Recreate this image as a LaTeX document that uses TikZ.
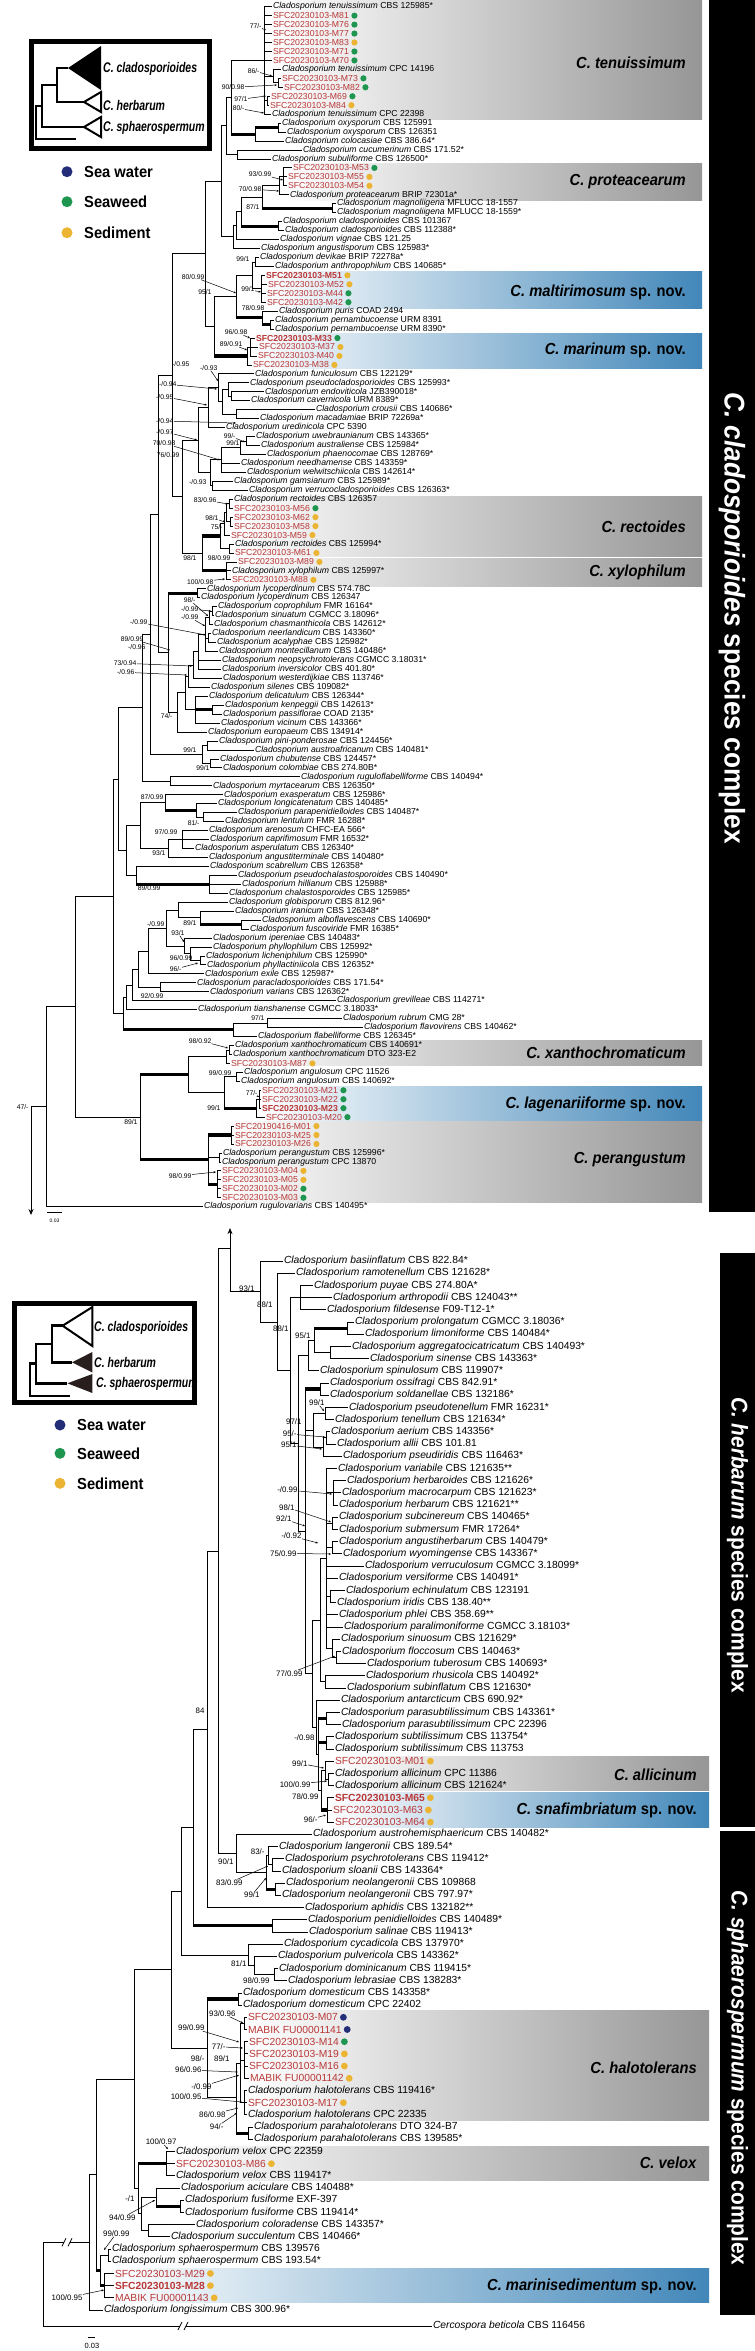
\documentclass[tikz,border=0pt]{standalone}
\usepackage{fontspec}
\setmainfont{Liberation Sans}
\newfontfamily\clfont[FakeStretch=0.92]{Liberation Sans}
\newfontfamily\legfont[FakeStretch=0.75]{Liberation Sans}
\usetikzlibrary{arrows.meta}
\definecolor{sfcred}{RGB}{185,55,55}
\definecolor{dg}{RGB}{30,150,80}
\definecolor{dy}{RGB}{235,180,50}
\definecolor{db}{RGB}{35,45,120}
\definecolor{boxg}{RGB}{150,150,150}
\definecolor{boxb}{RGB}{66,135,185}
\definecolor{dk}{RGB}{40,30,30}
\newcommand\Cl[1]{\textit{Cladosporium #1}}
\newcommand\rd[1]{\textcolor{sfcred}{#1}}
\newcommand\rdb[1]{\textcolor{sfcred}{\textbf{#1}}}
\def\dotr{3.1pt}
\newcommand\Lf[5]{\node[lab] (#1) at (#3,#4) {#5}; \draw[br] (#2,#4) -- (#1.west);}
\newcommand\Rf[6]{\Lf{#1}{#2}{#3}{#4}{\rd{SFC20230103-#5}}\fill[#6] ([xshift=4.5pt]#1.east) circle (\dotr);}
\newcommand\Rb[6]{\Lf{#1}{#2}{#3}{#4}{\rdb{SFC20230103-#5}}\fill[#6] ([xshift=4.5pt]#1.east) circle (\dotr);}
\newcommand\Rg[6]{\Lf{#1}{#2}{#3}{#4}{\rd{#5}}\fill[#6] ([xshift=4.5pt]#1.east) circle (\dotr);}
\newcommand\Nd[6]{\draw[br,#6] (#4,#5) -- (#1,#5); \draw[br] (#1,#2) -- (#1,#3);}
\newcount\supcnt
\newcommand\SupL[3]{\global\advance\supcnt by 1\relax\edef\snm{s\the\supcnt}\node[sup] (\snm) at (#1,#2) {#3};}
\newcommand\SupA[5]{\SupL{#1}{#2}{#3}\draw[sarr] (\snm) -- (#4,#5);}
\newcommand\brk[2]{\fill[white] (#1-3,#2-5) rectangle (#1+3,#2+5); \draw[line width=0.8pt] (#1-5,#2+4) -- (#1-1,#2-4) (#1+1,#2+4) -- (#1+5,#2-4);}
\tikzset{
 br/.style={line width=0.8pt},
 tk/.style={line width=3.2pt},
 lab/.style={anchor=west, inner sep=0.8pt, font=\fontsize{8.7}{9}\selectfont},
 sup/.style={anchor=east, inner sep=0.3pt, font=\fontsize{6.8}{7}\selectfont},
 sarr/.style={line width=0.5pt, -{Stealth[length=2.4pt,width=2pt]}},
 clab/.style={anchor=east, inner sep=0pt, font=\clfont\bfseries\fontsize{16}{16}\selectfont},
 legl/.style={anchor=west, inner sep=0pt, font=\legfont\bfseries\itshape\fontsize{14}{14}\selectfont},
 legt/.style={anchor=west, inner sep=0pt, font=\clfont\bfseries\fontsize{16}{16}\selectfont},
 bart/.style={rotate=-90, text=white, inner sep=0pt, font=\clfont\bfseries},
 lw/.style={line width=2.8pt},
}
\begin{document}
\begin{tikzpicture}[x=1pt,y=-1pt]
\useasboundingbox (0,0) rectangle (755,2351);
\fill[white] (0,0) rectangle (755,2351);
% ---------- clade boxes ----------
\shade[left color=white, right color=boxg] (268,0) rectangle (702,119.5);
\shade[left color=white, right color=boxg] (284,163) rectangle (702,200);
\shade[left color=white, right color=boxb] (262,271) rectangle (702,308.3);
\shade[left color=white, right color=boxb] (249,333.3) rectangle (702,368.3);
\shade[left color=white, right color=boxg] (227,496) rectangle (702,556.7);
\shade[left color=white, right color=boxg] (228,558.3) rectangle (702,586.7);
\shade[left color=white, right color=boxg] (227,1040.7) rectangle (702,1065.7);
\shade[left color=white, right color=boxb] (258,1086) rectangle (702,1121);
\shade[left color=white, right color=boxg] (217,1121.7) rectangle (702,1202.7);
\shade[left color=white, right color=boxg] (330,1756.7) rectangle (709,1790.7);
\shade[left color=white, right color=boxb] (330,1792.7) rectangle (709,1827.3);
\shade[left color=white, right color=boxg] (244,2010.7) rectangle (709,2120);
\shade[left color=white, right color=boxg] (172,2146.7) rectangle (709,2180.7);
\shade[left color=white, right color=boxb] (111,2268.3) rectangle (709,2302.7);
\node[clab] (cten) at (686,63) {\textit{C. tenuissimum}};
\node[clab] (cpro) at (686,182) {\textit{C. proteacearum}};
\node[clab] (cmal) at (686,292) {\textit{C. maltirimosum} sp. nov.};
\node[clab] (cmar) at (686,350) {\textit{C. marinum} sp. nov.};
\node[clab] (crec) at (686,527) {\textit{C. rectoides}};
\node[clab] (cxyl) at (686,572) {\textit{C. xylophilum}};
\node[clab] (cxan) at (686,1053) {\textit{C. xanthochromaticum}};
\node[clab] (clag) at (686,1104) {\textit{C. lagenariiforme} sp. nov.};
\node[clab] (cper) at (686,1160) {\textit{C. perangustum}};
\node[clab] (call) at (697,1775) {\textit{C. allicinum}};
\node[clab] (csna) at (697,1810) {\textit{C. snafimbriatum} sp. nov.};
\node[clab] (chal) at (697,2068) {\textit{C. halotolerans}};
\node[clab] (cvel) at (697,2163) {\textit{C. velox}};
\node[clab] (cmsd) at (697,2286) {\textit{C. marinisedimentum} sp. nov.};
% ---------- black bars ----------
\fill[black] (709,0) rectangle (755,1211.7);
\node[bart, font=\clfont\bfseries\fontsize{28.5}{28.5}\selectfont] (bar1) at (732,618) {\textit{C. cladosporioides} species complex};
\fill[black] (720,1253) rectangle (755,1826.7);
\node[bart, font=\clfont\bfseries\fontsize{22.7}{22.7}\selectfont] (bar2) at (737.5,1545) {\textit{C. herbarum} species complex};
\fill[black] (720,1831) rectangle (755,2315);
\node[bart, font=\clfont\bfseries\fontsize{22.7}{22.7}\selectfont] (bar3) at (737.5,2078) {\textit{C. sphaerospermum} species complex};
% ---------- top tree ----------
\begin{scope}[y=-8.955pt, yshift=2.255pt]
\Nd{264}{1}{13}{231}{7}{}
\Nd{273}{8}{9.5}{264}{8.75}{}
\Nd{278}{9}{10}{273}{9.5}{}
\Nd{267}{11}{12}{264}{11.5}{}
\Nd{278}{14}{15}{255}{14.5}{tk}
\Nd{255}{14.5}{16}{231}{15.25}{tk}
\Nd{231}{7}{15.25}{226}{11.1}{}
\Nd{237}{17}{18}{226}{17.5}{}
\Nd{226}{11.1}{17.5}{221}{14.3}{}
\Nd{283}{19}{21}{279}{20}{}
\Nd{279}{20}{22}{262}{21}{}
\Nd{332}{23}{24}{262}{23.5}{tk}
\Nd{262}{21}{23.5}{241}{22.25}{}
\Nd{278}{25}{26}{241}{25.5}{tk}
\Nd{241}{22.25}{25.5}{236}{23.9}{}
\Nd{236}{23.9}{27}{233}{25.45}{}
\Nd{233}{25.45}{28}{221}{26.7}{}
\Nd{221}{14.3}{26.7}{205}{20.5}{}
\Nd{255}{29}{30}{252}{29.5}{}
\Nd{261}{31}{34}{252}{32.5}{}
\Nd{252}{29.5}{32.5}{236}{31}{}
\Nd{270}{36}{37}{262}{36.5}{tk}
\Nd{262}{35}{36.5}{236}{35.75}{tk}
\Nd{236}{31}{35.75}{214}{33.4}{}
\Nd{250}{38}{40}{247}{39}{}
\Nd{247}{39}{41}{214}{40}{tk}
\Nd{214}{33.4}{40}{205}{36.7}{}
\Nd{205}{20.5}{36.7}{172}{28.6}{}
\Nd{231}{44}{45}{228}{44.5}{}
\Nd{228}{43}{44.5}{222}{43.75}{}
\Nd{236}{46}{47}{222}{46.5}{}
\Nd{222}{43.75}{46.5}{218}{45.1}{}
\Nd{218}{42}{45.1}{208}{43.55}{}
\Nd{208}{43.55}{48}{198}{45.8}{}
\Nd{246}{49}{50}{240}{49.5}{}
\Nd{240}{49.5}{51}{221}{50.25}{}
\Nd{221}{50.25}{53}{210}{51.6}{}
\Nd{212}{54}{55}{210}{54.5}{}
\Nd{210}{51.6}{54.5}{198}{53.05}{}
\Nd{198}{45.8}{53.05}{182}{49.4}{}
\Nd{229}{56}{57}{226}{56.5}{}
\Nd{230}{58}{59}{226}{58.5}{}
\Nd{226}{56.5}{58.5}{224}{57.5}{}
\Nd{224}{57.5}{60}{220}{58.75}{}
\Nd{229}{61}{62}{220}{61.5}{}
\Nd{220}{58.75}{61.5}{202}{60.1}{tk}
\Nd{226}{63}{65}{202}{64}{tk}
\Nd{202}{60.1}{64}{182}{62.05}{}
\Nd{182}{49.4}{62.05}{172}{55.7}{}
\Nd{172}{28.6}{55.7}{158}{42.15}{}
\Nd{197}{66}{67}{168}{66.5}{tk}
\Nd{212}{68}{69}{209}{68.5}{}
\Nd{209}{68.5}{70}{205}{69.25}{}
\Nd{208}{71}{72}{205}{71.5}{}
\Nd{205}{69.25}{73}{198}{71.1}{}
\Nd{198}{71.1}{75}{193}{73}{}
\Nd{193}{73}{76}{188}{74.5}{}
\Nd{188}{74.5}{77}{185}{75.75}{}
\Nd{212}{79}{80}{195}{79.5}{tk}
\Nd{195}{78}{81}{185}{79.5}{}
\Nd{185}{75.75}{79.5}{177}{77.6}{}
\Nd{177}{77.6}{82}{168}{79.8}{}
\Nd{168}{66.5}{79.8}{158}{73.15}{}
\Nd{158}{42.15}{73.15}{150}{57.65}{}
\Nd{207}{83}{84}{202}{83.5}{}
\Nd{210}{85}{86}{202}{85.5}{}
\Nd{202}{83.5}{85.5}{150}{84.5}{}
\Nd{150}{57.65}{84.5}{142}{71.1}{}
\Nd{170}{87}{88}{142}{87.5}{}
\Nd{142}{71.1}{87.5}{118}{79.3}{}
\Nd{203}{91}{92}{196}{91.5}{}
\Nd{196}{90}{91.5}{165}{90.75}{tk}
\Nd{165}{89}{90.75}{140}{89.9}{}
\Nd{182}{93}{95}{168}{94}{}
\Nd{168}{94}{96}{140}{95}{}
\Nd{140}{89.9}{95}{126}{92.45}{}
\Nd{209}{98}{100}{136}{99}{tk}
\Nd{136}{97}{99}{126}{98}{}
\Nd{126}{92.45}{98}{118}{95.2}{}
\Nd{118}{79.3}{95.2}{113}{87.25}{}
\Nd{241}{103}{104}{200}{103.5}{tk}
\Nd{200}{102}{103.5}{178}{102.75}{}
\Nd{178}{101}{102.75}{166}{101.9}{}
\Nd{200}{107}{108}{190}{107.5}{}
\Nd{190}{106}{107.5}{184}{106.75}{}
\Nd{184}{105}{106.75}{166}{105.9}{}
\Nd{166}{101.9}{105.9}{148}{103.9}{}
\Nd{148}{103.9}{109}{138}{106.45}{}
\Nd{160}{110}{111}{138}{110.5}{}
\Nd{138}{106.45}{110.5}{132}{108.5}{}
\Nd{132}{108.5}{112}{126}{110.25}{}
\Nd{126}{110.25}{113}{123}{111.6}{}
\Nd{267}{114}{115}{233}{114.5}{}
\Nd{233}{114.5}{116}{123}{115.25}{tk}
\Nd{123}{111.6}{115.25}{113}{113.4}{}
\Nd{113}{87.25}{113.4}{75}{100.3}{}
\Nd{229}{117}{118}{226}{117.5}{}
\Nd{226}{117.5}{119}{188}{118.25}{}
\Nd{236}{120}{121}{224}{120.5}{}
\Nd{259}{122}{124}{256}{123}{}
\Nd{256}{123}{125}{224}{124}{tk}
\Nd{224}{120.5}{124}{188}{122.25}{}
\Nd{188}{118.25}{122.25}{140}{120.25}{tk}
\Nd{231}{126}{128}{208}{127}{tk}
\Nd{219}{129}{130}{208}{129.5}{}
\Nd{217}{131}{134}{208}{132.5}{tk}
\Nd{208}{127}{132.5}{140}{129.75}{tk}
\Nd{140}{120.25}{129.75}{75}{125}{}
\Nd{75}{100.3}{125}{46}{112.65}{}
\Nd{46}{112.65}{135}{31}{123.8}{}
\draw[br,-{Stealth[length=6pt,width=5pt]}] (31,123.8) -- (31,135.93);
\Lf{t1}{264}{272}{1}{\Cl{tenuissimum} CBS 125985*}
\Rf{t2}{264}{272}{2}{M81}{dg}
\Rf{t3}{264}{272}{3}{M76}{dg}
\Rf{t4}{264}{272}{4}{M77}{dg}
\Rf{t5}{264}{272}{5}{M83}{dy}
\Rf{t6}{264}{272}{6}{M71}{dg}
\Rf{t7}{264}{272}{7}{M70}{dg}
\Lf{t8}{273}{281}{8}{\Cl{tenuissimum} CPC 14196}
\Rf{t9}{278}{281}{9}{M73}{dg}
\Rf{t10}{278}{283}{10}{M82}{dg}
\Rf{t11}{267}{270}{11}{M69}{dg}
\Rf{t12}{267}{269}{12}{M84}{dy}
\Lf{t13}{264}{271}{13}{\Cl{tenuissimum} CPC 22398}
\Lf{t14}{278}{281}{14}{\Cl{oxysporum} CBS 125991}
\Lf{t15}{278}{286}{15}{\Cl{oxysporum} CBS 126351}
\Lf{t16}{255}{284}{16}{\Cl{colocasiae} CBS 386.64*}
\Lf{t17}{237}{302}{17}{\Cl{cucumerinum} CBS 171.52*}
\Lf{t18}{237}{271}{18}{\Cl{subuliforme} CBS 126500*}
\Rf{t19}{283}{292}{19}{M53}{dg}
\Rf{t20}{283}{287}{20}{M55}{dy}
\Rf{t21}{283}{287}{21}{M54}{dy}
\Lf{t22}{279}{289}{22}{\Cl{proteacearum} BRIP 72301a*}
\Lf{t23}{332}{336}{23}{\Cl{magnoliigena} MFLUCC 18-1557}
\Lf{t24}{332}{336}{24}{\Cl{magnoliigena} MFLUCC 18-1559*}
\Lf{t25}{278}{282}{25}{\Cl{cladosporioides} CBS 101367}
\Lf{t26}{278}{284}{26}{\Cl{cladosporioides} CBS 112388*}
\Lf{t27}{236}{279}{27}{\Cl{vignae} CBS 121.25}
\Lf{t28}{233}{260}{28}{\Cl{angustisporum} CBS 125983*}
\Lf{t29}{255}{259}{29}{\Cl{devikae} BRIP 72278a*}
\Lf{t30}{255}{274}{30}{\Cl{anthropophilum} CBS 140685*}
\Rb{t31}{261}{265}{31}{M51}{dy}
\Rf{t32}{261}{267}{32}{M52}{dy}
\Rf{t33}{261}{266}{33}{M44}{dg}
\Rf{t34}{261}{266}{34}{M42}{dg}
\Lf{t35}{262}{278}{35}{\Cl{puris} COAD 2494}
\Lf{t36}{270}{274}{36}{\Cl{pernambucoense} URM 8391}
\Lf{t37}{270}{274}{37}{\Cl{pernambucoense} URM 8390*}
\Rb{t38}{250}{255}{38}{M33}{dg}
\Rf{t39}{250}{258}{39}{M37}{dy}
\Rf{t40}{250}{257}{40}{M40}{dy}
\Rf{t41}{247}{252}{41}{M38}{dy}
\Lf{t42}{218}{254}{42}{\Cl{funiculosum} CBS 122129*}
\Lf{t43}{228}{249}{43}{\Cl{pseudocladosporioides} CBS 125993*}
\Lf{t44}{231}{264}{44}{\Cl{endoviticola} JZB390018*}
\Lf{t45}{231}{250}{45}{\Cl{cavernicola} URM 8389*}
\Lf{t46}{236}{315}{46}{\Cl{crousii} CBS 140686*}
\Lf{t47}{236}{259}{47}{\Cl{macadamiae} BRIP 72269a*}
\Lf{t48}{208}{225}{48}{\Cl{uredinicola} CPC 5390}
\Lf{t49}{246}{255}{49}{\Cl{uwebraunianum} CBS 143365*}
\Lf{t50}{246}{260}{50}{\Cl{australiense} CBS 125984*}
\Lf{t51}{240}{266}{51}{\Cl{phaenocomae} CBS 128769*}
\Lf{t52}{221}{240}{52}{\Cl{needhamense} CBS 143359*}
\Lf{t53}{221}{246}{53}{\Cl{welwitschiicola} CBS 142614*}
\Lf{t54}{212}{233}{54}{\Cl{gamsianum} CBS 125989*}
\Lf{t55}{212}{248}{55}{\Cl{verrucocladosporioides} CBS 126363*}
\Lf{t56}{229}{233}{56}{\Cl{rectoides} CBS 126357}
\Rf{t57}{229}{233}{57}{M56}{dg}
\Rf{t58}{230}{233}{58}{M62}{dy}
\Rf{t59}{230}{233}{59}{M58}{dy}
\Rf{t60}{224}{230}{60}{M59}{dy}
\Lf{t61}{229}{234}{61}{\Cl{rectoides} CBS 125994*}
\Rf{t62}{229}{234}{62}{M61}{dy}
\Rf{t63}{226}{237}{63}{M89}{dy}
\Lf{t64}{226}{231}{64}{\Cl{xylophilum} CBS 125997*}
\Rf{t65}{226}{231}{65}{M88}{dy}
\Lf{t66}{197}{206}{66}{\Cl{lycoperdinum} CBS 574.78C}
\Lf{t67}{197}{200}{67}{\Cl{lycoperdinum} CBS 126347}
\Lf{t68}{212}{217}{68}{\Cl{coprophilum} FMR 16164*}
\Lf{t69}{212}{214}{69}{\Cl{sinuatum} CGMCC 3.18096*}
\Lf{t70}{209}{213}{70}{\Cl{chasmanthicola} CBS 142612*}
\Lf{t71}{208}{211}{71}{\Cl{neerlandicum} CBS 143360*}
\Lf{t72}{208}{216}{72}{\Cl{acalyphae} CBS 125982*}
\Lf{t73}{205}{218}{73}{\Cl{montecillanum} CBS 140486*}
\Lf{t74}{198}{221}{74}{\Cl{neopsychrotolerans} CGMCC 3.18031*}
\Lf{t75}{198}{221}{75}{\Cl{inversicolor} CBS 401.80*}
\Lf{t76}{193}{222}{76}{\Cl{westerdijkiae} CBS 113746*}
\Lf{t77}{188}{210}{77}{\Cl{silenes} CBS 109082*}
\Lf{t78}{195}{208}{78}{\Cl{delicatulum} CBS 126344*}
\Lf{t79}{212}{224}{79}{\Cl{kenpeggii} CBS 142613*}
\Lf{t80}{212}{222}{80}{\Cl{passiflorae} COAD 2135*}
\Lf{t81}{195}{220}{81}{\Cl{vicinum} CBS 143366*}
\Lf{t82}{177}{207}{82}{\Cl{europaeum} CBS 134914*}
\Lf{t83}{207}{218}{83}{\Cl{pini-ponderosae} CBS 124456*}
\Lf{t84}{207}{254}{84}{\Cl{austroafricanum} CBS 140481*}
\Lf{t85}{210}{219}{85}{\Cl{chubutense} CBS 124457*}
\Lf{t86}{210}{222}{86}{\Cl{colombiae} CBS 274.80B*}
\Lf{t87}{170}{300}{87}{\Cl{ruguloflabelliforme} CBS 140494*}
\Lf{t88}{170}{212}{88}{\Cl{myrtacearum} CBS 126350*}
\Lf{t89}{165}{223}{89}{\Cl{exasperatum} CBS 125986*}
\Lf{t90}{196}{217}{90}{\Cl{longicatenatum} CBS 140485*}
\Lf{t91}{203}{237}{91}{\Cl{parapenidielloides} CBS 140487*}
\Lf{t92}{203}{224}{92}{\Cl{lentulum} FMR 16288*}
\Lf{t93}{182}{208}{93}{\Cl{arenosum} CHFC-EA 566*}
\Lf{t94}{182}{209}{94}{\Cl{caprifimosum} FMR 16532*}
\Lf{t95}{182}{194}{95}{\Cl{asperulatum} CBS 126340*}
\Lf{t96}{168}{208}{96}{\Cl{angustiterminale} CBS 140480*}
\Lf{t97}{136}{209}{97}{\Cl{scabrellum} CBS 126358*}
\Lf{t98}{209}{237}{98}{\Cl{pseudochalastosporoides} CBS 140490*}
\Lf{t99}{209}{241}{99}{\Cl{hillianum} CBS 125988*}
\Lf{t100}{209}{228}{100}{\Cl{chalastosporoides} CBS 125985*}
\Lf{t101}{178}{228}{101}{\Cl{globisporum} CBS 812.96*}
\Lf{t102}{200}{234}{102}{\Cl{iranicum} CBS 126348*}
\Lf{t103}{241}{261}{103}{\Cl{alboflavescens} CBS 140690*}
\Lf{t104}{241}{249}{104}{\Cl{fuscoviride} FMR 16385*}
\Lf{t105}{184}{212}{105}{\Cl{ipereniae} CBS 140483*}
\Lf{t106}{190}{212}{106}{\Cl{phyllophilum} CBS 125992*}
\Lf{t107}{200}{205}{107}{\Cl{licheniphilum} CBS 125990*}
\Lf{t108}{200}{206}{108}{\Cl{phyllactiniicola} CBS 126352*}
\Lf{t109}{148}{204}{109}{\Cl{exile} CBS 125987*}
\Lf{t110}{160}{196}{110}{\Cl{paracladosporioides} CBS 171.54*}
\Lf{t111}{160}{209}{111}{\Cl{varians} CBS 126362*}
\Lf{t112}{132}{336}{112}{\Cl{grevilleae} CBS 114271*}
\Lf{t113}{126}{197}{113}{\Cl{tianshanense} CGMCC 3.18033*}
\Lf{t114}{267}{342}{114}{\Cl{rubrum} CMG 28*}
\Lf{t115}{267}{363}{115}{\Cl{flavovirens} CBS 140462*}
\Lf{t116}{233}{257}{116}{\Cl{flabelliforme} CBS 126345*}
\Lf{t117}{229}{234}{117}{\Cl{xanthochromaticum} CBS 140691*}
\Lf{t118}{229}{232}{118}{\Cl{xanthochromaticum} DTO 323-E2}
\Rf{t119}{226}{230}{119}{M87}{dy}
\Lf{t120}{236}{243}{120}{\Cl{angulosum} CPC 11526}
\Lf{t121}{236}{240}{121}{\Cl{angulosum} CBS 140692*}
\Rf{t122}{259}{261}{122}{M21}{dg}
\Rf{t123}{259}{261}{123}{M22}{dg}
\Rb{t124}{259}{261}{124}{M23}{dg}
\Rf{t125}{256}{265}{125}{M20}{dg}
\Rg{t126}{231}{234}{126}{SFC20190416-M01}{dy}
\Rf{t127}{231}{234}{127}{M25}{dy}
\Rf{t128}{231}{234}{128}{M26}{dy}
\Lf{t129}{219}{222}{129}{\Cl{perangustum} CBS 125996*}
\Lf{t130}{219}{221}{130}{\Cl{perangustum} CPC 13870}
\Rf{t131}{217}{221}{131}{M04}{dy}
\Rf{t132}{217}{221}{132}{M05}{dy}
\Rf{t133}{217}{221}{133}{M02}{dg}
\Rf{t134}{217}{221}{134}{M03}{dg}
\Lf{t135}{46}{203}{135}{\Cl{rugulovarians} CBS 140495*}
\end{scope}
% ---------- bottom tree ----------
\begin{scope}[y=-12.198pt, yshift=-1248.8pt, lab/.style={anchor=west, inner sep=0.8pt, font=\fontsize{10.3}{11}\selectfont}]
\def\dotr{3.4pt}
\Nd{300}{3}{5}{290}{4}{}
\Nd{347}{6}{7}{314}{6.5}{tk}
\Nd{330}{8}{9}{314}{8.5}{}
\Nd{314}{6.5}{8.5}{308}{7.5}{}
\Nd{308}{7.5}{10}{298}{8.75}{}
\Nd{320}{11}{12}{305}{11.5}{tk}
\Nd{325}{13}{14}{313}{13.5}{}
\Nd{326}{15}{16}{323}{15.5}{}
\Nd{323}{15.5}{17}{313}{16.25}{}
\Nd{313}{13.5}{16.25}{305}{14.9}{}
\Nd{333}{19}{21}{326}{20}{}
\Nd{332}{22}{23}{326}{22.5}{}
\Nd{332}{24}{25}{326}{24.5}{}
\Nd{330}{28}{29}{326}{28.5}{}
\Nd{336}{33}{34}{332}{33.5}{}
\Nd{332}{32}{33.5}{326}{32.75}{}
\Nd{326}{18}{32.75}{320}{25.4}{}
\Nd{325}{35}{36}{320}{35.5}{}
\Nd{320}{25.4}{35.5}{312}{30.45}{}
\Nd{326}{38}{39}{318}{38.5}{tk}
\Nd{326}{40}{41}{318}{40.5}{tk}
\Nd{328}{43}{44}{325}{43.5}{}
\Nd{325}{42}{43.5}{321}{42.75}{}
\Nd{327}{45}{47}{321}{46}{tk}
\Nd{321}{42.75}{46}{318}{44.4}{}
\Nd{318}{38.5}{44.4}{316}{41.45}{}
\Nd{316}{37}{41.45}{312}{39.2}{}
\Nd{312}{30.45}{39.2}{305}{34.8}{}
\Nd{305}{11.5}{34.8}{298}{23.15}{}
\Nd{298}{8.75}{23.15}{290}{15.95}{}
\Nd{290}{4}{15.95}{277}{9.98}{}
\Nd{277}{2}{9.98}{260}{6}{}
\Nd{260}{1}{6}{230}{3.5}{}
\draw[br,-{Stealth[length=6pt,width=5pt]}] (230,3.5) -- (230,-1.7);
\Nd{272}{50}{51}{268}{50.5}{}
\Nd{268}{49}{50.5}{266}{49.75}{}
\Nd{275}{52}{53}{266}{52.5}{tk}
\Nd{266}{49.75}{52.5}{236}{51.1}{}
\Nd{236}{48}{51.1}{218}{49.55}{}
\draw[br] (218,0) -- (230,0);
\Nd{218}{0}{49.55}{207}{24.8}{}
\Nd{207}{24.8}{54}{193}{39.4}{}
\Nd{272}{55}{56}{193}{55.5}{tk}
\Nd{193}{39.4}{55.5}{181}{47.45}{}
\Nd{274}{59}{60}{254}{59.5}{}
\Nd{254}{58}{59.5}{248}{58.75}{}
\Nd{248}{57}{58.75}{181}{57.9}{}
\Nd{181}{47.45}{57.9}{171}{52.7}{}
\Nd{238}{61}{62}{207}{61.5}{tk}
\Nd{244}{63}{64}{240}{63.5}{}
\Nd{244}{65}{68}{240}{66.5}{}
\Nd{244}{69}{71}{240}{70}{}
\Nd{240}{63.5}{70}{236}{66.75}{}
\Nd{248}{72}{73}{236}{72.5}{tk}
\Nd{236}{66.75}{72.5}{207}{69.6}{}
\Nd{207}{61.5}{69.6}{171}{65.55}{}
\Nd{171}{52.7}{65.55}{134}{59.1}{}
\Nd{166}{74}{76}{138}{75}{tk}
\Nd{180}{78}{79}{156}{78.5}{tk}
\Nd{156}{77}{78.5}{141}{77.75}{}
\Nd{148}{80}{81}{141}{80.5}{}
\Nd{141}{77.75}{80.5}{138}{79.1}{}
\Nd{138}{75}{79.1}{134}{77.05}{}
\Nd{134}{59.1}{77.05}{96}{68.1}{}
\Nd{108}{82}{83}{100}{82.5}{}
\Nd{104}{84}{86}{100}{85}{tk}
\Nd{100}{82.5}{85}{96}{83.75}{tk}
\Nd{96}{68.1}{83.75}{89}{75.9}{}
\Nd{89}{75.9}{87}{43}{81.45}{}
\draw[br] (43,81.45) -- (43,88.3);
\Lf{b1}{260}{283}{1}{\Cl{basiinflatum} CBS 822.84*}
\Lf{b2}{277}{295}{2}{\Cl{ramotenellum} CBS 121628*}
\Lf{b3}{300}{313}{3}{\Cl{puyae} CBS 274.80A*}
\Lf{b4}{300}{332}{4}{\Cl{arthropodii} CBS 124043**}
\Lf{b5}{300}{326}{5}{\Cl{fildesense} F09-T12-1*}
\Lf{b6}{347}{354}{6}{\Cl{prolongatum} CGMCC 3.18036*}
\Lf{b7}{347}{364}{7}{\Cl{limoniforme} CBS 140484*}
\Lf{b8}{330}{351}{8}{\Cl{aggregatocicatricatum} CBS 140493*}
\Lf{b9}{330}{369}{9}{\Cl{sinense} CBS 143363*}
\Lf{b10}{308}{319}{10}{\Cl{spinulosum} CBS 119907*}
\Lf{b11}{320}{329}{11}{\Cl{ossifragi} CBS 842.91*}
\Lf{b12}{320}{329}{12}{\Cl{soldanellae} CBS 132186*}
\Lf{b13}{325}{348}{13}{\Cl{pseudotenellum} FMR 16231*}
\Lf{b14}{325}{334}{14}{\Cl{tenellum} CBS 121634*}
\Lf{b15}{326}{330}{15}{\Cl{aerium} CBS 143356*}
\Lf{b16}{326}{336}{16}{\Cl{allii} CBS 101.81}
\Lf{b17}{323}{342}{17}{\Cl{pseudiridis} CBS 116463*}
\Lf{b18}{326}{337}{18}{\Cl{variabile} CBS 121635**}
\Lf{b19}{333}{346}{19}{\Cl{herbaroides} CBS 121626*}
\Lf{b20}{333}{341}{20}{\Cl{macrocarpum} CBS 121623*}
\Lf{b21}{333}{338}{21}{\Cl{herbarum} CBS 121621**}
\Lf{b22}{332}{338}{22}{\Cl{subcinereum} CBS 140465*}
\Lf{b23}{332}{338}{23}{\Cl{submersum} FMR 17264*}
\Lf{b24}{332}{338}{24}{\Cl{angustiherbarum} CBS 140479*}
\Lf{b25}{332}{342}{25}{\Cl{wyomingense} CBS 143367*}
\Lf{b26}{326}{364}{26}{\Cl{verruculosum} CGMCC 3.18099*}
\Lf{b27}{326}{338}{27}{\Cl{versiforme} CBS 140491*}
\Lf{b28}{330}{345}{28}{\Cl{echinulatum} CBS 123191}
\Lf{b29}{330}{336}{29}{\Cl{iridis} CBS 138.40**}
\Lf{b30}{326}{338}{30}{\Cl{phlei} CBS 358.69**}
\Lf{b31}{326}{343}{31}{\Cl{paralimoniforme} CGMCC 3.18103*}
\Lf{b32}{332}{340}{32}{\Cl{sinuosum} CBS 121629*}
\Lf{b33}{336}{341}{33}{\Cl{floccosum} CBS 140463*}
\Lf{b34}{336}{366}{34}{\Cl{tuberosum} CBS 140693*}
\Lf{b35}{325}{365}{35}{\Cl{rhusicola} CBS 140492*}
\Lf{b36}{325}{346}{36}{\Cl{subinflatum} CBS 121630*}
\Lf{b37}{316}{340}{37}{\Cl{antarcticum} CBS 690.92*}
\Lf{b38}{326}{340}{38}{\Cl{parasubtilissimum} CBS 143361*}
\Lf{b39}{326}{341}{39}{\Cl{parasubtilissimum} CPC 22396}
\Lf{b40}{326}{334}{40}{\Cl{subtilissimum} CBS 113754*}
\Lf{b41}{326}{334}{41}{\Cl{subtilissimum} CBS 113753}
\Rf{b42}{325}{334}{42}{M01}{dy}
\Lf{b43}{328}{334}{43}{\Cl{allicinum} CPC 11386}
\Lf{b44}{328}{334}{44}{\Cl{allicinum} CBS 121624*}
\Rb{b45}{327}{334}{45}{M65}{dy}
\Rf{b46}{327}{332}{46}{M63}{dy}
\Rf{b47}{327}{334}{47}{M64}{dy}
\Lf{b48}{236}{312}{48}{\Cl{austrohemisphaericum} CBS 140482*}
\Lf{b49}{268}{278}{49}{\Cl{langeronii} CBS 189.54*}
\Lf{b50}{272}{284}{50}{\Cl{psychrotolerans} CBS 119412*}
\Lf{b51}{272}{281}{51}{\Cl{sloanii} CBS 143364*}
\Lf{b52}{275}{285}{52}{\Cl{neolangeronii} CBS 109868}
\Lf{b53}{275}{281}{53}{\Cl{neolangeronii} CBS 797.97*}
\Lf{b54}{207}{304}{54}{\Cl{aphidis} CBS 132182**}
\Lf{b55}{272}{307}{55}{\Cl{penidielloides} CBS 140489*}
\Lf{b56}{272}{308}{56}{\Cl{salinae} CBS 119413*}
\Lf{b57}{248}{283}{57}{\Cl{cycadicola} CBS 137970*}
\Lf{b58}{254}{277}{58}{\Cl{pulvericola} CBS 143362*}
\Lf{b59}{274}{278}{59}{\Cl{dominicanum} CBS 119415*}
\Lf{b60}{274}{287}{60}{\Cl{lebrasiae} CBS 138283*}
\Lf{b61}{238}{242}{61}{\Cl{domesticum} CBS 143358*}
\Lf{b62}{238}{242}{62}{\Cl{domesticum} CPC 22402}
\Rf{b63}{244}{247}{63}{M07}{db}
\Rg{b64}{244}{247}{64}{MABIK FU00001141}{db}
\Rf{b65}{244}{248}{65}{M14}{dg}
\Rf{b66}{244}{248}{66}{M19}{dy}
\Rf{b67}{244}{248}{67}{M16}{dy}
\Rg{b68}{244}{249}{68}{MABIK FU00001142}{dy}
\Lf{b69}{244}{247}{69}{\Cl{halotolerans} CBS 119416*}
\Rf{b70}{244}{247}{70}{M17}{dy}
\Lf{b71}{244}{247}{71}{\Cl{halotolerans} CPC 22335}
\Lf{b72}{248}{253}{72}{\Cl{parahalotolerans} DTO 324-B7}
\Lf{b73}{248}{253}{73}{\Cl{parahalotolerans} CBS 139585*}
\Lf{b74}{166}{175}{74}{\Cl{velox} CPC 22359}
\Rf{b75}{166}{175}{75}{M86}{dy}
\Lf{b76}{166}{175}{76}{\Cl{velox} CBS 119417*}
\Lf{b77}{156}{180}{77}{\Cl{aciculare} CBS 140488*}
\Lf{b78}{180}{184}{78}{\Cl{fusiforme} EXF-397}
\Lf{b79}{180}{184}{79}{\Cl{fusiforme} CBS 119414*}
\Lf{b80}{148}{195}{80}{\Cl{coloradense} CBS 143357*}
\Lf{b81}{148}{170}{81}{\Cl{succulentum} CBS 140466*}
\Lf{b82}{108}{111}{82}{\Cl{sphaerospermum} CBS 139576}
\Lf{b83}{108}{111}{83}{\Cl{sphaerospermum} CBS 193.54*}
\Rf{b84}{104}{114}{84}{M29}{dy}
\Rb{b85}{104}{114}{85}{M28}{dy}
\Rg{b86}{104}{114}{86}{MABIK FU00001143}{dy}
\Lf{b87}{89}{103}{87}{\Cl{longissimum} CBS 300.96*}
\Lf{b88}{43}{432}{88.3}{\textit{Cercospora beticola} CBS 116456}
\end{scope}
\brk{67}{2242.3}
\brk{183}{2325.9}
% ---------- support values, top ----------
\SupA{262}{26}{77/-}{266}{30}
\SupA{260}{70.7}{86/-}{272}{76}
\SupA{245}{87.3}{90/0.98}{277}{85}
\SupA{248}{99.3}{97/1}{266}{96}
\SupA{245}{108.3}{80/-}{264}{113}
\SupA{272}{174}{93/0.99}{283}{180}
\SupA{262}{189}{70/0.98}{279}{191}
\SupL{260}{206.7}{87/1}
\SupL{250}{259}{99/1}
\SupA{205}{276.7}{80/0.99}{236}{293}
\SupA{255}{289.3}{99/1}{261}{292}
\SupL{212}{291.7}{95/1}
\SupL{265}{308.3}{78/0.98}
\SupA{248}{332.3}{96/0.98}{250}{338}
\SupA{243}{344}{89/0.91}{247}{350}
\SupL{190}{364}{-/0.95}
\SupA{218}{367.7}{-/0.93}{218}{381}
\SupA{177}{384.3}{-/0.94}{217}{389}
\SupA{174}{396.7}{-/0.95}{207}{405}
\SupA{174}{421}{-/0.94}{236}{423}
\SupA{174}{431.7}{-/0.97}{197}{440}
\SupA{236}{436}{99/-}{245}{442}
\SupL{240}{443.3}{99/1}
\SupA{176}{443.3}{70/0.98}{220}{460}
\SupL{180}{455}{76/0.99}
\SupL{207}{481.7}{-/0.93}
\SupA{217}{500}{83/0.96}{228}{504}
\SupA{219}{517.7}{98/1}{225}{522}
\SupL{223}{526.7}{75/-}
\SupL{197}{558.3}{98/1}
\SupL{231}{558.3}{98/0.99}
\SupA{214}{581.7}{100/0.98}{225}{579}
\SupA{196}{600}{98/-}{208}{616}
\SupA{199}{609}{-/0.99}{211}{611}
\SupA{199}{617.3}{-/0.99}{205}{626}
\SupA{148}{622.3}{-/0.99}{206}{635}
\SupA{144}{639}{89/0.99}{170}{650}
\SupL{146}{646.7}{-/0.96}
\SupA{137}{663.3}{73/0.94}{192}{666}
\SupA{135}{672.3}{-/0.96}{187}{675}
\SupL{173}{716}{74/-}
\SupL{197}{750}{99/1}
\SupL{210}{768.3}{99/1}
\SupL{164}{797.3}{87/0.99}
\SupL{200}{822.7}{81/-}
\SupL{178}{831.7}{97/0.99}
\SupL{166}{853.3}{93/1}
\SupL{161}{888.3}{89/0.99}
\SupL{165}{924}{-/0.99}
\SupL{197}{923.3}{89/1}
\SupA{185}{932.7}{93/1}{184}{942}
\SupL{193}{957.7}{96/0.99}
\SupA{182}{969}{96/-}{198}{963}
\SupL{164}{996}{92/0.99}
\SupL{265}{1018.3}{97/1}
\SupA{212}{1040.7}{98/0.92}{228}{1048}
\SupL{232}{1073.3}{99/0.99}
\SupA{258}{1093.3}{77/-}{259}{1097}
\SupL{221}{1108.3}{99/1}
\SupL{29}{1106.7}{47/-}
\SupL{138}{1121.7}{89/1}
\SupA{192}{1175.7}{98/0.99}{216}{1172}
% ---------- support values, bottom ----------
\begin{scope}[sup/.style={anchor=east, inner sep=0.3pt, font=\fontsize{7.9}{8}\selectfont}]
\SupL{255}{1288.3}{93/1}
\SupL{273}{1305}{88/1}
\SupL{289}{1328.3}{88/1}
\SupL{311}{1335.7}{95/1}
\SupA{325}{1402.3}{99/1}{324}{1411}
\SupL{302}{1421.7}{97/1}
\SupA{297}{1434}{95/-}{325}{1437}
\SupA{297}{1445}{95/1}{322}{1449}
\SupA{298}{1490}{-/0.99}{332}{1494}
\SupA{295}{1507.3}{98/1}{331}{1522}
\SupA{292}{1519}{92/1}{305}{1526}
\SupA{302}{1536}{-/0.92}{318}{1543}
\SupA{297}{1553.3}{75/0.99}{331}{1554}
\SupA{303}{1673.3}{77/0.99}{335}{1656}
\SupL{205}{1711}{84}
\SupL{315}{1737.3}{-/0.98}
\SupA{308}{1763.3}{99/1}{324}{1768}
\SupA{311}{1784.3}{100/0.99}{327}{1781}
\SupL{319}{1796.7}{78/0.99}
\SupA{318}{1819.3}{96/-}{326}{1815}
\SupL{265}{1851.7}{83/-}
\SupL{234}{1861.7}{90/1}
\SupA{243}{1882.7}{83/0.99}{268}{1866}
\SupA{260}{1895}{99/1}{266}{1878}
\SupL{247}{1963.3}{81/1}
\SupL{270}{1981}{98/0.99}
\SupA{236}{2013.3}{93/0.96}{243}{2023}
\SupA{205}{2027.7}{99/0.99}{239}{2042}
\SupA{226}{2046.7}{77/-}{243}{2048}
\SupL{205}{2058.3}{98/-}
\SupL{230}{2059}{89/1}
\SupA{202}{2070}{96/0.96}{238}{2072}
\SupA{212}{2086.7}{-/0.99}{239}{2075}
\SupA{202}{2096.7}{100/0.95}{242}{2102}
\SupA{226}{2114.3}{86/0.98}{238}{2108}
\SupA{224}{2126.7}{94/-}{237}{2113}
\SupA{177}{2141.7}{100/0.97}{168}{2149}
\SupL{135}{2198.3}{-/1}
\SupA{136}{2217.7}{94/0.99}{155}{2200}
\SupA{130}{2233.3}{99/0.99}{104}{2250}
\SupA{83}{2297.7}{100/0.95}{104}{2290}
\end{scope}
% ---------- scale bars ----------
\draw[line width=0.8pt] (47,1212.7) -- (62,1212.7);
\node[font=\fontsize{5}{5}\selectfont, inner sep=0] (sc1) at (54.5,1221) {0.03};
\draw[line width=1pt] (88,2337.7) -- (95,2337.7);
\node[font=\fontsize{7.5}{8}\selectfont, inner sep=0] (sc2) at (92,2346) {0.03};
% ---------- legend top ----------
\draw[line width=5pt] (31.5,41.5) rectangle (209.5,148.5);
\fill[black] (68,68) -- (101,46) -- (101,90) -- cycle;
\draw[lw] (68,68) -- (57,68) -- (57,102) -- (84,102);
\draw[lw] (57,85) -- (42,85) -- (42,127) -- (84,127);
\draw[lw] (42,106) -- (36,106) -- (36,139) -- (76,139);
\draw[line width=2pt, fill=white] (84,102) -- (101,92) -- (101,112) -- cycle;
\draw[line width=2pt, fill=white] (84,127) -- (101,117) -- (101,137) -- cycle;
\node[legl] (lg1) at (103,69) {C. cladosporioides};
\node[legl] (lg2) at (103,105) {C. herbarum};
\node[legl] (lg3) at (103,128) {C. sphaerospermum};
\fill[db] (67,171.7) circle (5.5pt);
\node[legt] (lt1) at (84,171.7) {Sea water};
\fill[dg] (67,201.7) circle (5.5pt);
\node[legt] (lt2) at (84,201.7) {Seaweed};
\fill[dy] (67,232.7) circle (5.5pt);
\node[legt] (lt3) at (84,232.7) {Sediment};
% ---------- legend bottom ----------
\draw[line width=5pt] (14.5,1303.5) rectangle (194.5,1402.5);
\draw[lw] (62.6,1325.7) -- (52,1325.7) -- (52,1362.3) -- (72,1362.3);
\draw[lw] (52,1344) -- (36,1344) -- (36,1383.3) -- (67.4,1383.3);
\draw[lw] (36,1363.6) -- (30,1363.6) -- (30,1396) -- (70,1396);
\draw[line width=2pt, fill=white] (62.6,1325.7) -- (92.4,1307) -- (92.4,1346) -- cycle;
\fill[dk] (72,1362.3) -- (92.4,1352) -- (92.4,1372.5) -- cycle;
\fill[dk] (67.4,1383.3) -- (92.4,1374) -- (92.4,1393) -- cycle;
\node[legl] (lg4) at (94,1328.3) {C. cladosporioides};
\node[legl] (lg5) at (94,1362.3) {C. herbarum};
\node[legl] (lg6) at (96,1384) {C. sphaerospermum};
\fill[db] (60,1425) circle (5.5pt);
\node[legt] (lt4) at (77,1425) {Sea water};
\fill[dg] (60,1453.3) circle (5.5pt);
\node[legt] (lt5) at (77,1453.3) {Seaweed};
\fill[dy] (60,1483.3) circle (5.5pt);
\node[legt] (lt6) at (77,1483.3) {Sediment};
\end{tikzpicture}
\end{document}
